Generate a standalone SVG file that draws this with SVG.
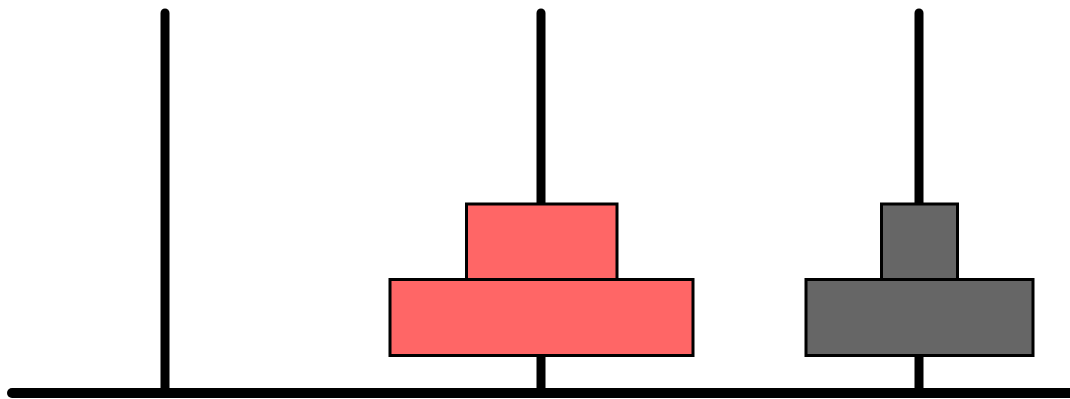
<svg xmlns="http://www.w3.org/2000/svg" width="1070" height="399" viewBox="0 0 1070 399">
<style>
.pole{stroke:#000;stroke-width:9;stroke-linecap:round;fill:none}
.disk{stroke:#000;stroke-width:3}
.red{fill:#ff6666}
.gray{fill:#666666}
</style>
<rect width="1070" height="399" fill="#fff"/>
<g id="poles">
<line class="pole" x1="165" y1="13" x2="165" y2="392"/>
<line class="pole" x1="541" y1="13" x2="541" y2="392"/>
<line class="pole" x1="919" y1="13" x2="919" y2="392"/>
</g>
<g id="base">
<line class="pole" x1="12" y1="393" x2="1080" y2="393" style="stroke-width:10"/>
</g>
<g id="red-disks">
<rect class="disk red" x="390" y="279.5" width="303" height="76"/>
<rect class="disk red" x="466.5" y="204" width="150.5" height="75.5"/>
</g>
<g id="gray-disks">
<rect class="disk gray" x="806" y="279.5" width="227" height="76"/>
<rect class="disk gray" x="881.5" y="204" width="76" height="75.5"/>
</g>
</svg>
